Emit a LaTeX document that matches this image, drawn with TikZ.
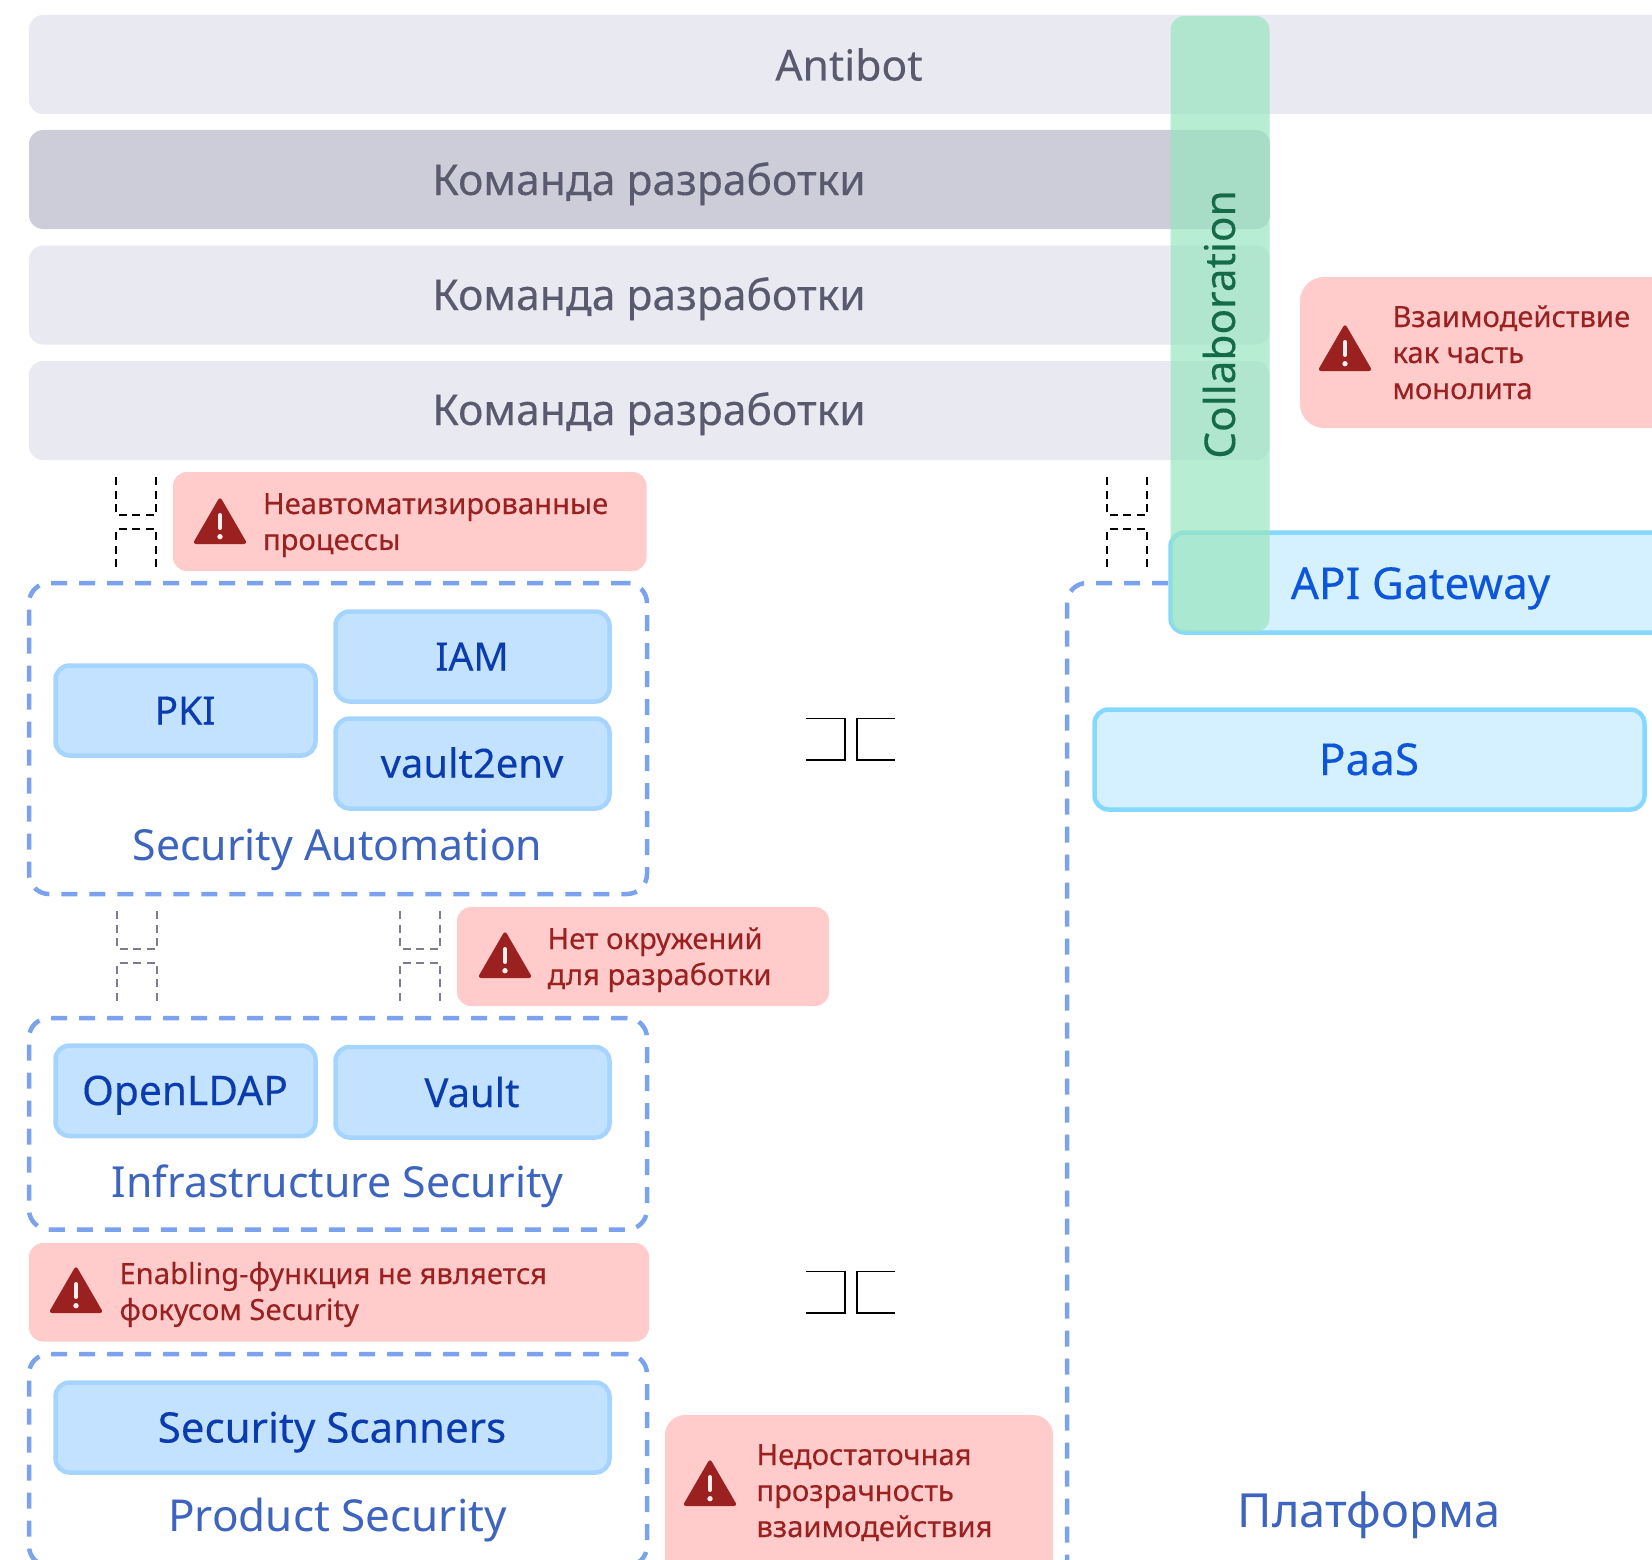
\documentclass[tikz,border=0pt]{standalone}
\usepackage{fontspec}
\setmainfont{Noto Sans}
\newfontfamily\medfont[FakeBold=0.25]{Noto Sans}
\definecolor{barfill}{HTML}{E9E9F2}
\definecolor{bardark}{HTML}{CDCDDA}
\definecolor{bartext}{HTML}{5A5A6E}
\definecolor{collabfill}{HTML}{98E5BF}
\definecolor{collabtext}{HTML}{156B47}
\definecolor{pinkfill}{HTML}{FFCBCB}
\definecolor{warnred}{HTML}{9B2020}
\definecolor{dashblue}{HTML}{7AA2EE}
\definecolor{boxfill}{HTML}{C2E2FF}
\definecolor{boxline}{HTML}{A5D5FF}
\definecolor{boxtext}{HTML}{0A3BAF}
\definecolor{skyfill}{HTML}{D5F1FF}
\definecolor{skyline}{HTML}{85D8FF}
\definecolor{skytext}{HTML}{0D56DC}
\definecolor{grouptext}{HTML}{3D64BE}
\definecolor{graydash}{HTML}{7D7D90}
\newcommand{\rbox}[6]{\node[#2,anchor=north west,minimum width=#5pt-#3pt,minimum height=#6pt-#4pt] (#1) at (#3,#4) {};}
\newcommand{\warnicon}[3]{%
  \fill[warnred,rounded corners=3.5pt] (#2,#3-3.5) -- (#2+27.5,#3+44) -- (#2-27.5,#3+44) -- cycle;
  \draw[line width=4pt,line cap=round,color=pink!30] (#2,#3+15) -- (#2,#3+28);
  \fill[pink!30] (#2,#3+36.7) circle (2.7);
}
\newcommand{\ujoint}[5]{%
  \draw[#5] (#2,#3) -- (#2,#3+38) -- (#1,#3+38) -- (#1,#3);
  \draw[#5] (#1,#4) -- (#1,#4-38) -- (#2,#4-38) -- (#2,#4);
}
\newcommand{\cjoint}[2]{%
  \draw[jointsolid] (806,#1) -- (845,#1) -- (845,#2) -- (806,#2);
  \draw[jointsolid] (895,#1) -- (857,#1) -- (857,#2) -- (895,#2);
}
\tikzset{
  x=1pt,y=-1pt,
  every node/.style={inner sep=0pt,outer sep=0pt},
  bar/.style={fill=barfill,rounded corners=14pt},
  bardk/.style={fill=bardark,rounded corners=14pt},
  pinkbox/.style={fill=pinkfill,rounded corners=#1},
  pinkbox/.default=14pt,
  groupbox/.style={draw=dashblue,line width=4.5pt,dash pattern=on 16pt off 12pt,rounded corners=20pt},
  svc/.style={fill=boxfill,draw=boxline,line width=4.5pt,rounded corners=14pt},
  sky/.style={fill=skyfill,draw=skyline,line width=4.5pt,rounded corners=14pt},
  bartxt/.style={anchor=base,text=bartext,font=\medfont\fontsize{42.6}{48}\selectfont},
  svctxt/.style={anchor=base,text=boxtext,font=\medfont\fontsize{#1}{44}\selectfont},
  svctxt/.default=40,
  skytxt/.style={anchor=base,text=skytext,font=\medfont\fontsize{44}{44}\selectfont},
  grouptxt/.style={anchor=base,text=grouptext,font=\fontsize{#1}{48}\selectfont},
  grouptxt/.default=42.8,
  warntxt/.style={anchor=base west,text=warnred,font=\medfont\fontsize{29.2}{36}\selectfont},
  jointdash/.style={black,line width=2pt,dash pattern=on 8pt off 5.5pt},
  jointgray/.style={graydash,line width=2pt,dash pattern=on 8pt off 5.5pt},
  jointsolid/.style={black,line width=1.5pt},
}
\begin{document}
\begin{tikzpicture}
\clip (0,0) rectangle (1652,1560);
\useasboundingbox (0,0) rectangle (1652,1560);
% team bars
\rbox{antibot}{bar}{29}{15}{1700}{114}
\rbox{teamA}{bardk}{29}{130}{1270}{229}
\rbox{teamB}{bar}{29}{245.5}{1270}{344.5}
\rbox{teamC}{bar}{29}{361}{1270}{460}
\node[bartxt] (antibotT) at (849,80.5) {Antibot};
\node[bartxt] (teamAT) at (649,195) {Команда разработки};
\node[bartxt] (teamBT) at (649,310) {Команда разработки};
\node[bartxt] (teamCT) at (649,425) {Команда разработки};
% warnings
\rbox{warnA}{pinkbox}{173}{472}{646.5}{571}
\warnicon{iconA}{220}{500}
\node[warntxt] (warnAT) at (263,514) {\vtop{\hbox{Неавтоматизированные}\hbox{процессы}}};
\rbox{warnB}{pinkbox}{457}{907}{829}{1006}
\warnicon{iconB}{505}{934}
\node[warntxt] (warnBT) at (547.5,949) {\vtop{\hbox{Нет окружений}\hbox{для разработки}}};
\rbox{warnC}{pinkbox}{29}{1243}{649}{1341.5}
\warnicon{iconC}{76}{1269}
\node[warntxt] (warnCT) at (119.5,1284) {\vtop{\hbox{Enabling-функция не является}\hbox{фокусом Security}}};
\rbox{warnD}{pinkbox=20pt}{665}{1415}{1053}{1620}
\warnicon{iconD}{710}{1462}
\node[warntxt] (warnDT) at (756.5,1465) {\vtop{\hbox{Недостаточная}\hbox{прозрачность}\hbox{взаимодействия}}};
\rbox{warnE}{pinkbox=24pt}{1300}{277}{1720}{428}
\warnicon{iconE}{1345}{327}
\node[warntxt] (warnET) at (1392.5,327) {\vtop{\hbox{Взаимодействие}\hbox{как часть}\hbox{монолита}}};
% group boxes
\rbox{secAuto}{groupbox}{29}{583}{647}{894}
\rbox{infra}{groupbox}{29}{1018}{647}{1229.5}
\rbox{product}{groupbox}{29}{1354}{647}{1566}
\rbox{platform}{groupbox}{1067}{583}{1720}{1640}
% services
\rbox{pki}{svc}{55.5}{665.5}{315.5}{755.5}
\rbox{iam}{svc}{335.5}{611.5}{609.5}{701.5}
\rbox{vaultenv}{svc}{335.5}{718.5}{609.5}{808.5}
\rbox{ldap}{svc}{55.5}{1045.5}{315.5}{1136}
\rbox{vault}{svc}{335.5}{1047}{609.5}{1137.5}
\rbox{scanners}{svc}{55.5}{1382.5}{609.5}{1472.5}
\node[svctxt=39] (pkiT) at (185,724.5) {PKI};
\node[svctxt=39] (iamT) at (472,670.5) {IAM};
\node[svctxt] (vaultenvT) at (472,777.5) {vault2env};
\node[svctxt=40.7] (ldapT) at (185,1105) {OpenLDAP};
\node[svctxt] (vaultT) at (472,1107) {Vault};
\node[svctxt=42] (scannersT) at (332,1442.5) {Security Scanners};
\node[grouptxt] (secAutoT) at (337.5,860) {Security Automation};
\node[grouptxt] (infraT) at (337.5,1197.5) {Infrastructure Security};
\node[grouptxt=44] (productT) at (337.5,1531) {Product Security};
\node[grouptxt=47] (platformT) at (1369,1527.5) {Платформа};
% platform services
\rbox{api}{sky}{1170.5}{532.5}{1720}{632.5}
\rbox{paas}{sky}{1094.5}{709.5}{1644.5}{809.5}
\node[skytxt] (apiT) at (1420.5,599) {API Gateway};
\node[skytxt] (paasT) at (1369,775) {PaaS};
% collaboration band
\rbox{collab}{fill=collabfill,fill opacity=0.7,rounded corners=14pt}{1170.5}{16}{1269.5}{632}
\node[anchor=base,rotate=90,text=collabtext,font=\medfont\fontsize{42.4}{44}\selectfont] (collabT) at (1235,324.5) {Collaboration};
% joints
\ujoint{116}{156}{477}{567}{jointdash}
\ujoint{1107}{1147}{477}{567}{jointdash}
\ujoint{117}{157}{911}{1000.5}{jointgray}
\ujoint{400}{440}{911}{1000.5}{jointgray}
\cjoint{718.5}{760}
\cjoint{1271.5}{1313}
\end{tikzpicture}
\end{document}
